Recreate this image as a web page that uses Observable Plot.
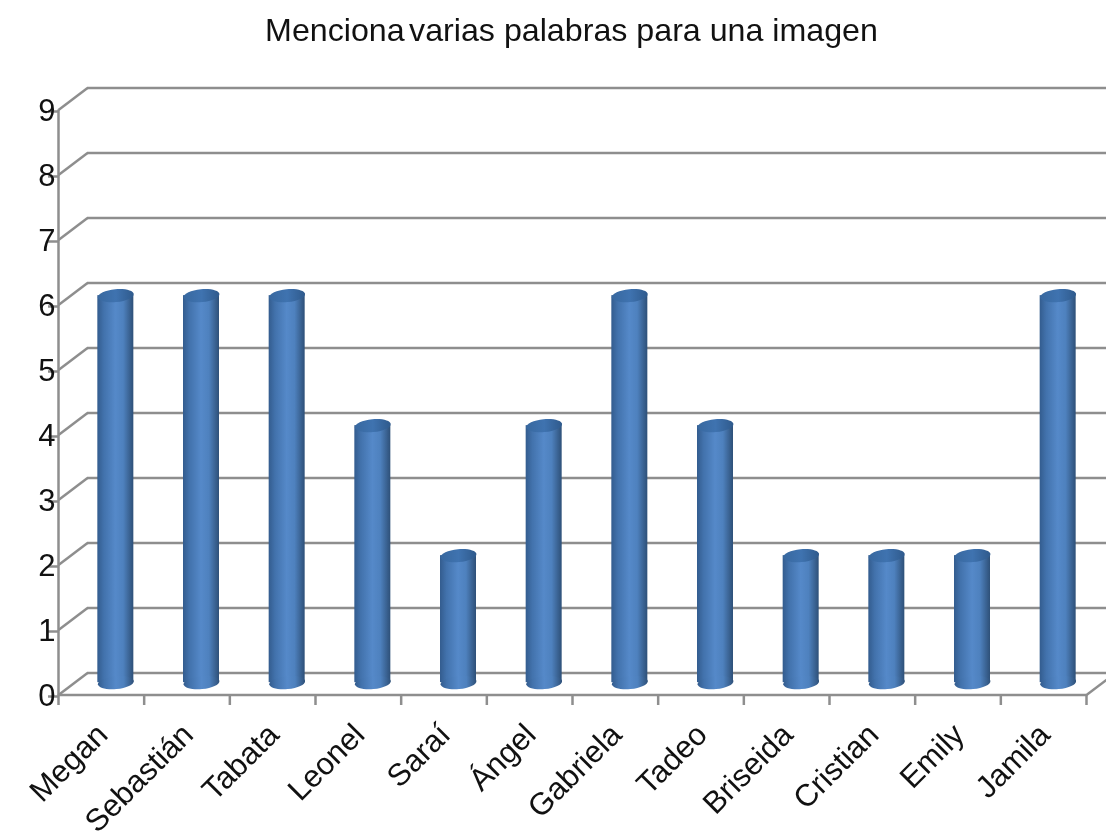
<!DOCTYPE html>
<html>
<head>
<meta charset="utf-8">
<script src="https://cdn.jsdelivr.net/npm/d3@7"></script>
<script src="https://cdn.jsdelivr.net/npm/@observablehq/plot@0.6"></script>
<style>
html,body{margin:0;padding:0;background:#fff;overflow:hidden}
#title{height:60px;line-height:60px;text-align:center;font-family:"Liberation Sans",Arial,sans-serif;font-size:32.2px;color:#111;box-sizing:border-box;width:1143px;white-space:nowrap;filter:blur(0.4px)}
svg{display:block;filter:blur(0.5px)}
</style>
</head>
<body>
<div id="title"><span style="word-spacing:-4.5px">Menciona varias</span> palabras para una imagen</div>
<div id="chart"></div>
<script>
const names = ["Megan","Sebastián","Tabata","Leonel","Saraí","Ángel","Gabriela","Tadeo","Briseida","Cristian","Emily","Jamila"];
const values = [6,6,6,4,2,4,6,4,2,2,2,6];
const yTicks = [0,1,2,3,4,5,6,7,8,9];

const depthX = 29/85.67, depthY = 22/65, barW = 36/85.67;
const grey = "#8e8e8e", gw = 2.5;
const rows = names.map((name,i)=>({name,i,value:values[i]}));
const xTickVals = d3.range(0,13);
const xLabelVals = names.map((_,i)=>i+0.5);
const cx = d => d.i + 0.5 + depthX/2;
const base = 0.19;

function ellipseSymbol(ry, tilt){
  return {draw(ctx,size){
    const rx = Math.sqrt(size/Math.PI), k = 0.5523;
    const c = Math.cos(tilt), s = Math.sin(tilt);
    const P = (x,y)=>[x*c-y*s, x*s+y*c];
    const seg = (a,b,d)=>{const A=P(...a),B=P(...b),D=P(...d);ctx.bezierCurveTo(A[0],A[1],B[0],B[1],D[0],D[1]);};
    const st = P(rx,0); ctx.moveTo(st[0],st[1]);
    seg([rx,k*ry],[k*rx,ry],[0,ry]);
    seg([-k*rx,ry],[-rx,k*ry],[-rx,0]);
    seg([-rx,-k*ry],[-k*rx,-ry],[0,-ry]);
    seg([k*rx,-ry],[rx,-k*ry],[rx,0]);
    ctx.closePath();
  }};
}
const defs = () => {
  const ns="http://www.w3.org/2000/svg";
  const d=document.createElementNS(ns,"defs");
  const grad=(id,stops)=>{
    const g=document.createElementNS(ns,"linearGradient");
    g.setAttribute("id",id);g.setAttribute("x1","0");g.setAttribute("x2","1");g.setAttribute("y1","0");g.setAttribute("y2","0");
    stops.forEach(([o,c])=>{const s=document.createElementNS(ns,"stop");s.setAttribute("offset",o);s.setAttribute("stop-color",c);g.appendChild(s);});
    d.appendChild(g);
  };
  grad("cyl",[[0,"#335c8e"],[0.18,"#4272ac"],[0.5,"#5589c9"],[0.72,"#4e81be"],[1,"#2e5078"]]);
  grad("cap",[[0,"#38689f"],[0.5,"#3f73b0"],[1,"#2f5a8c"]]);
  const g=document.createElementNS(ns,"g");g.appendChild(d);return g;
};

const chart = Plot.plot({
  width:1106, height:771,
  marginTop:48, marginBottom:137, marginLeft:58, marginRight:20,
  style:{fontFamily:'"Liberation Sans",Arial,sans-serif',fontSize:"31px",color:"#111",background:"#fff"},
  x:{domain:[0,12],range:[58,1086],label:null},
  y:{domain:[0,9],range:[634.5,49.5],label:null},
  marks:[
    defs,
    Plot.ruleY(yTicks,{y:d=>d+depthY,x1:()=>depthX,x2:()=>12+depthX,stroke:grey,strokeWidth:gw}),
    Plot.link(yTicks,{x1:()=>0,y1:d=>d,x2:()=>depthX,y2:d=>d+depthY,stroke:grey,strokeWidth:gw}),
    Plot.link([12],{x1:d=>d,y1:()=>0,x2:d=>d+depthX,y2:()=>depthY,stroke:grey,strokeWidth:gw}),
    Plot.ruleX([0],{y1:0,y2:9,stroke:grey,strokeWidth:gw}),
    Plot.ruleY([0],{x1:0,x2:12,stroke:grey,strokeWidth:gw}),
    Plot.axisY({ticks:yTicks,tickSize:10,tickPadding:-7,stroke:grey,strokeWidth:gw,fill:"#111",fontSize:31,dy:1.5,tickFormat:d=>d,label:null}),
    Plot.axisX({ticks:xTickVals,tickSize:11,stroke:grey,strokeWidth:gw,tickFormat:()=>"",label:null}),
    Plot.axisX({ticks:xLabelVals,tickSize:0,tickPadding:35,tickRotate:-45,fill:"#111",fontSize:31,dx:1,tickFormat:d=>names[d-0.5],label:null}),
    Plot.rectY(rows,{x1:d=>cx(d)-barW/2,x2:d=>cx(d)+barW/2,y1:()=>base,y2:d=>d.value+base,insetTop:3,fill:"url(#cyl)"}),
    Plot.dot(rows,{x:cx,y:()=>base,r:18,symbol:ellipseSymbol(6.5,-0.09),fill:"url(#cyl)"}),
    Plot.dot(rows,{x:cx,y:d=>d.value+base,dy:3,r:18,symbol:ellipseSymbol(6.5,-0.09),fill:"url(#cap)"})
  ]
});
document.getElementById("chart").appendChild(chart);
</script>
</body>
</html>
